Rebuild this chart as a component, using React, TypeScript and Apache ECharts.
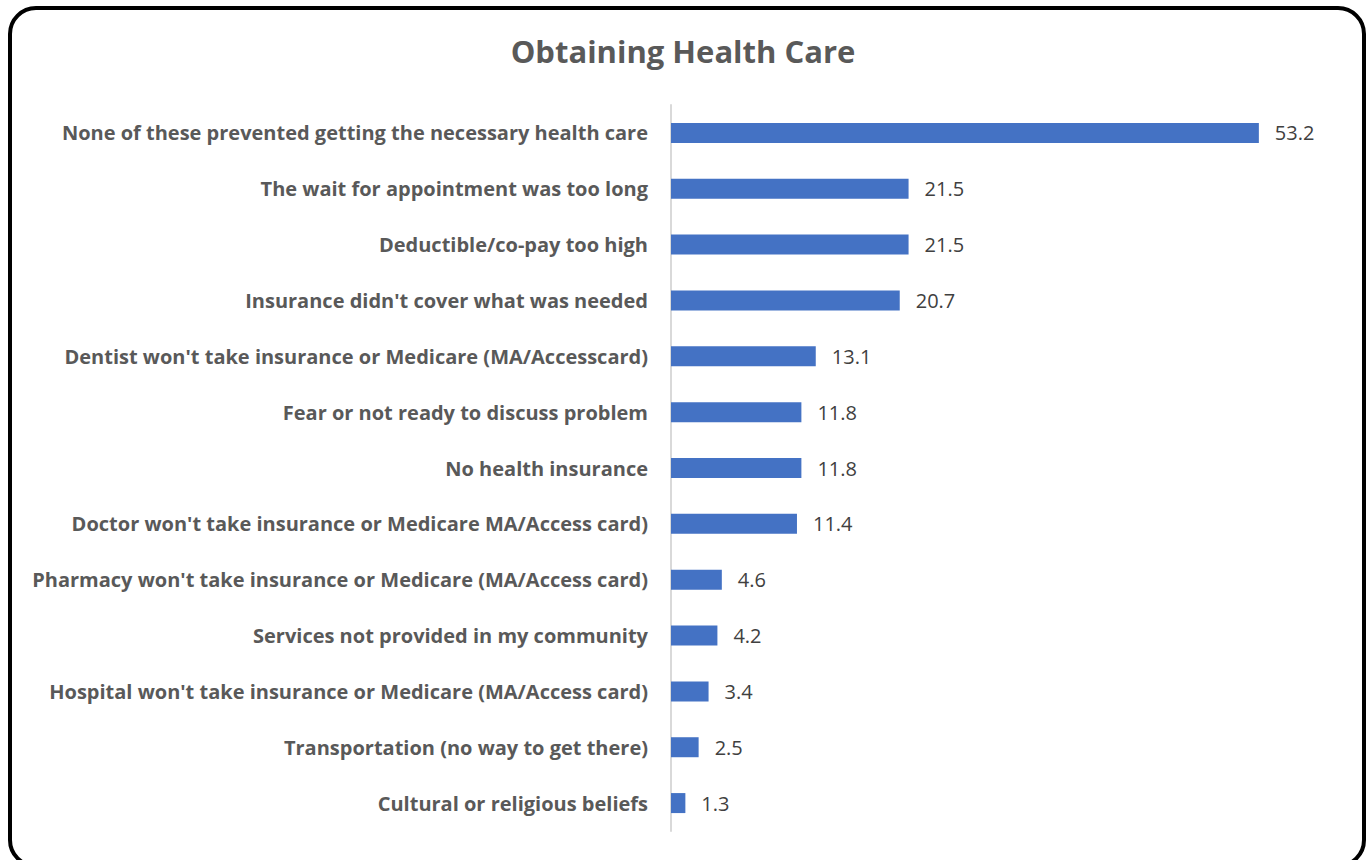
import React, { useEffect, useRef } from "react";
import * as echarts from "echarts";

const categories = [
  "None of these prevented getting the necessary health care",
  "The wait for appointment was too long",
  "Deductible/co-pay too high",
  "Insurance didn't cover what was needed",
  "Dentist won't take insurance or Medicare (MA/Accesscard)",
  "Fear or not ready to discuss problem",
  "No health insurance",
  "Doctor won't take insurance or Medicare MA/Access card)",
  "Pharmacy won't take insurance or Medicare (MA/Access card)",
  "Services not provided in my community",
  "Hospital won't take insurance or Medicare (MA/Access card)",
  "Transportation (no way to get there)",
  "Cultural or religious beliefs",
];
const values = [53.2, 21.5, 21.5, 20.7, 13.1, 11.8, 11.8, 11.4, 4.6, 4.2, 3.4, 2.5, 1.3];
const title = "Obtaining Health Care";

export default function App() {
  const ref = useRef<HTMLDivElement>(null);
  useEffect(() => {
    const chart = echarts.init(ref.current!, undefined, { renderer: "svg" });
    chart.setOption({
      animation: false,
      backgroundColor: "#ffffff",
      textStyle: { fontFamily: "Open Sans" },
      title: {
        text: title,
        left: "center",
        top: 30,
        textStyle: { fontSize: 31, fontWeight: "bold", color: "#595959", fontFamily: "Open Sans" },
      },
      graphic: [
        {
          type: "rect",
          shape: { x: 10, y: 8, width: 1354, height: 858, r: 26 },
          style: { fill: "none", stroke: "#000000", lineWidth: 4 },
          silent: true,
        },
      ],
      grid: { left: 671, right: 32, top: 105, bottom: 29, containLabel: false },
      xAxis: {
        type: "value",
        min: 0,
        max: 60,
        show: false,
      },
      yAxis: {
        type: "category",
        data: categories,
        inverse: true,
        axisLine: { show: true, lineStyle: { color: "#d9d9d9", width: 2 } },
        axisTick: { show: false },
        axisLabel: {
          margin: 23,
          fontSize: 20,
          fontWeight: "bold",
          color: "#595959",
          fontFamily: "Open Sans",
        },
      },
      series: [
        {
          type: "bar",
          data: values,
          barWidth: 20,
          itemStyle: { color: "#4472C4" },
          label: {
            show: true,
            position: "right",
            distance: 16,
            fontSize: 20,
            color: "#404040",
            fontFamily: "Open Sans",
            formatter: (p: any) => p.value.toFixed(1),
          },
        },
      ],
    });
    return () => chart.dispose();
  }, []);
  return <div ref={ref} style={{ width: 1366, height: 860, position: "absolute", left: 0, top: 0 }} />;
}
